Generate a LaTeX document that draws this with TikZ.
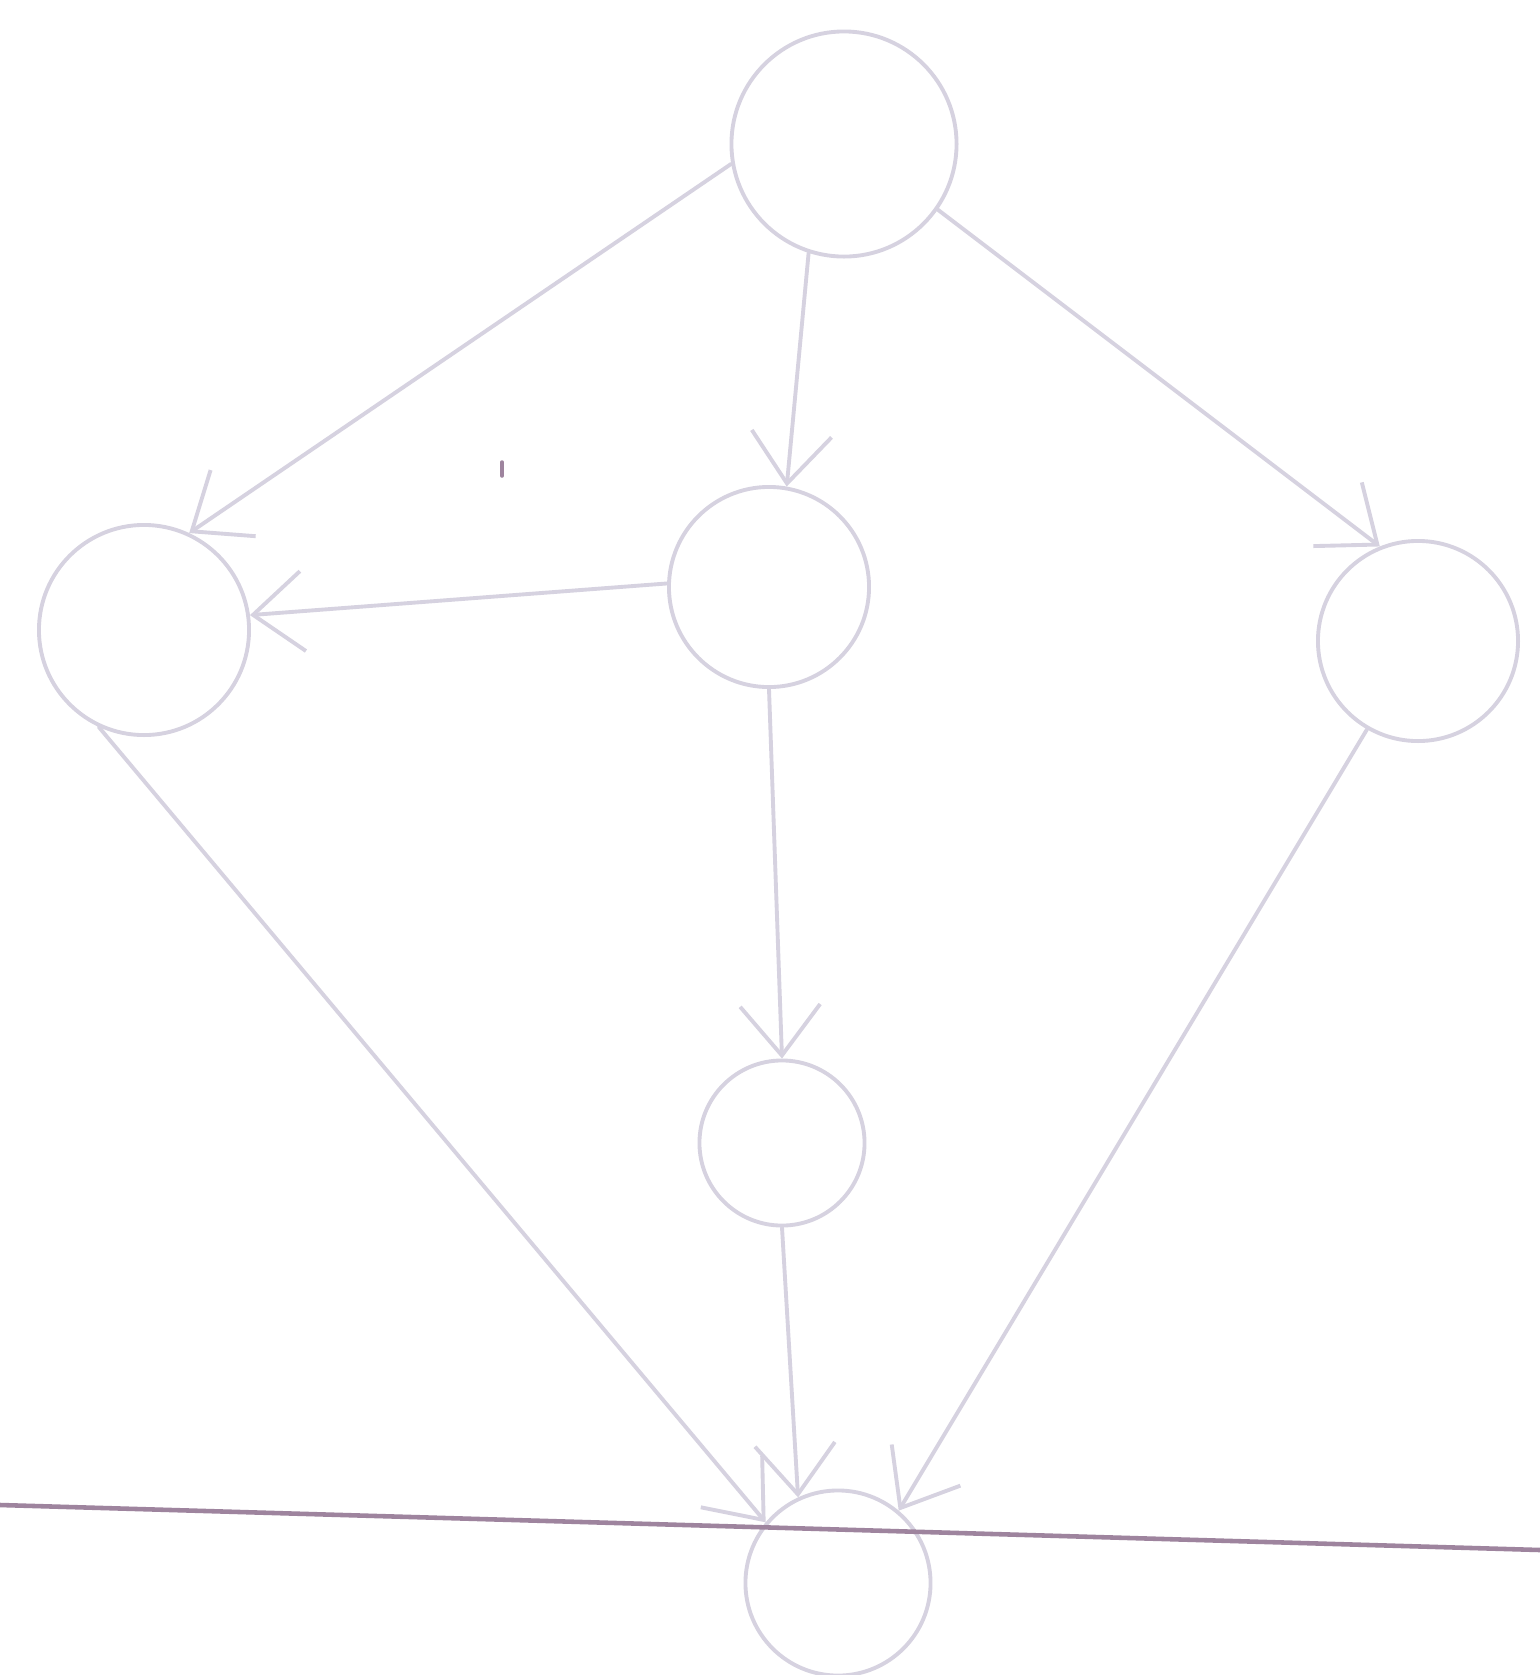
\documentclass[tikz,border=0pt]{standalone}
\usepackage{tikz}
\usetikzlibrary{arrows.meta}
\definecolor{pencil}{RGB}{214,210,224}
\definecolor{ruled}{RGB}{158,132,158}
\begin{document}
\begin{tikzpicture}[
  x=0.01cm,y=-0.01cm,
  line cap=round,
  line join=round,
  vertex/.style={circle,draw=pencil,line width=1.1pt,inner sep=0pt},
  link/.style={draw=pencil,line width=1.1pt,-{Straight Barb[length=5mm,width=8mm]}},
  rule/.style={draw=ruled,line width=1.3pt}
]
  \fill[white] (0,0) rectangle (1540,1675);
  \useasboundingbox (0,0) rectangle (1540,1675);

  % Vertices
  \node[vertex,minimum size=2.25cm] (top)   at ( 844, 144) {};
  \node[vertex,minimum size=2.10cm] (left)  at ( 144, 630) {};
  \node[vertex,minimum size=2.00cm] (mid)   at ( 769, 587) {};
  \node[vertex,minimum size=2.00cm] (right) at (1418, 641) {};
  \node[vertex,minimum size=1.65cm] (low)   at ( 782,1143) {};
  \node[vertex,minimum size=1.85cm] (bot)   at ( 838,1583) {};

  % Arcs
  \draw[link] (top.190) -- (left.65);
  \draw[link] (top.252) -- (mid.80);
  \draw[link] (top.-35) -- (right.112);
  \draw[link] (mid.178) -- (left.8);
  \draw[link] (mid.south) -- (low.north);
  \draw[link] (low.south) -- (bot.115);
  \draw[link] (left.245) -- (bot.140);
  \draw[link] (right.240) -- (bot.50);

  % Ruled line of the sheet
  \coordinate (rl) at (0,1505);
  \coordinate (rr) at (1540,1550);
  \draw[rule] (rl) -- (rr);

  % Stray mark
  \draw[draw=ruled,line width=1pt] (502,462) -- (502,476);
\end{tikzpicture}
\end{document}
